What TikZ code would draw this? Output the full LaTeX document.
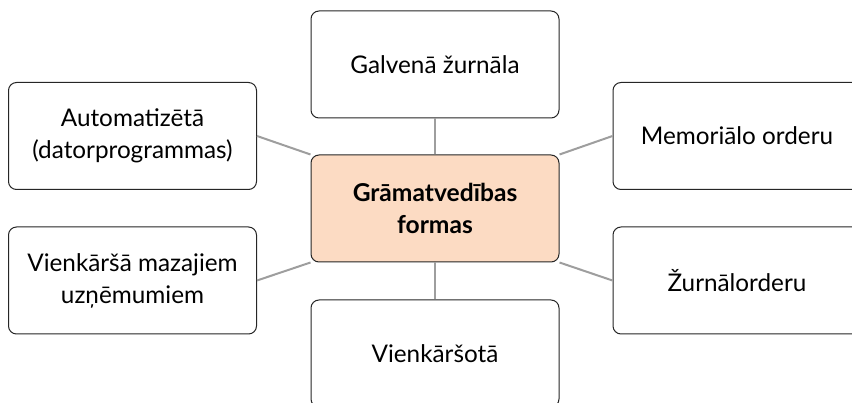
\documentclass[tikz,border=0pt]{standalone}
\usepackage{fontspec}
\setmainfont{Lato}
\definecolor{peach}{RGB}{252,219,195}
\begin{document}
\begin{tikzpicture}[x=1pt,y=1pt]
\tikzstyle{every node}=[font=\fontsize{24.3}{32}\selectfont]
\tikzstyle{formbox}=[draw=black!85,line width=1pt,rounded corners=8pt,minimum width=248pt,minimum height=107pt,align=center,fill=white]
\tikzstyle{link}=[draw=black!38,line width=2pt]
\useasboundingbox (0,0) rectangle (852,402);
\clip (0,0) rectangle (852,402);
\begin{scope}
 \node [formbox,fill=peach,font=\fontsize{24.6}{32}\selectfont\bfseries] (forms) at (435,193.5) {Grāmatvedības\\formas};
 \node [formbox] (general) at (435,337.5) {Galvenā žurnāla};
 \node [formbox] (simplified) at (435,48.5) {Vienkāršotā};
 \node [formbox] (auto) at (132.5,266) {Automatizētā\\(datorprogrammas)};
 \node [formbox] (small) at (132.5,121.5) {Vienkāršā mazajiem\\uzņēmumiem};
 \node [formbox] (memorial) at (737,266) {Memoriālo orderu};
 \node [formbox] (journal) at (737,121.5) {Žurnālorderu};
\end{scope}
\draw [link] (forms.north) -- (general.south);
\draw [link] (forms.south) -- (simplified.north);
\draw [link] (forms.north west) -- (auto.east);
\draw [link] (forms.south west) -- (small.east);
\draw [link] (forms.north east) -- (memorial.west);
\draw [link] (forms.south east) -- (journal.west);
\end{tikzpicture}
\end{document}
